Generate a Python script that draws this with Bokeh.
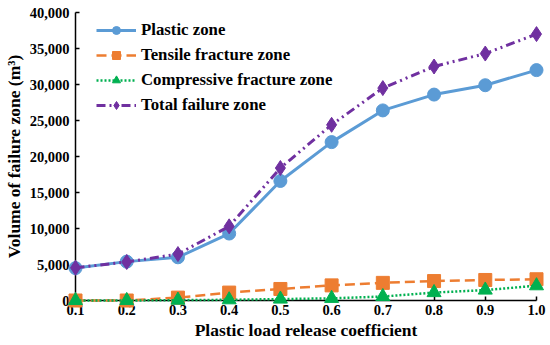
from bokeh.plotting import figure
from bokeh.models import Range1d, Legend, LegendItem, NumeralTickFormatter, FixedTicker
from bokeh.embed import file_html
from bokeh.resources import INLINE

# ---- data ----
coef = [0.1, 0.2, 0.3, 0.4, 0.5, 0.6, 0.7, 0.8, 0.9, 1.0]
plastic = [4500, 5400, 6000, 9300, 16600, 22000, 26400, 28600, 29900, 32000]
tensile = [0, 0, 400, 1100, 1600, 2100, 2450, 2700, 2850, 2950]
compressive = [0, 0, 50, 100, 200, 300, 550, 1100, 1450, 2050]
total = [4550, 5350, 6450, 10300, 18400, 24400, 29500, 32500, 34300, 37000]
y_ticks = [0, 5000, 10000, 15000, 20000, 25000, 30000, 35000, 40000]
series_names = ["Plastic zone", "Tensile fracture zone", "Compressive fracture zone", "Total failure zone"]

FONT = "Liberation Serif"

p = figure(width=550, height=345, output_backend="svg", toolbar_location=None,
           x_range=Range1d(0.1, 1.0), y_range=Range1d(0, 40000),
           min_border_left=74, min_border_right=14, min_border_top=12, min_border_bottom=45)
p.outline_line_color = None
p.grid.visible = False
p.background_fill_color = "white"
p.border_fill_color = "white"

p.xaxis.ticker = FixedTicker(ticks=coef)
p.yaxis.ticker = FixedTicker(ticks=y_ticks)
p.yaxis.formatter = NumeralTickFormatter(format="0,0")
p.xaxis.formatter = NumeralTickFormatter(format="0.0")
p.xaxis.axis_label = "Plastic load release coefficient"
p.yaxis.axis_label = "Volume of failure zone (m³)"
for ax in (p.xaxis, p.yaxis):
    ax.axis_line_color = "black"
    ax.axis_line_width = 1.5
    ax.major_tick_line_color = "black"
    ax.major_tick_line_width = 1.5
    ax.major_tick_in = 4
    ax.major_tick_out = 0
    ax.minor_tick_line_color = None
    ax.major_label_text_font = FONT
    ax.major_label_text_font_style = "bold"
    ax.major_label_text_font_size = "14.5px"
    ax.major_label_text_color = "black"
    ax.axis_label_text_font = FONT
    ax.axis_label_text_font_style = "bold"
    ax.axis_label_text_font_size = "17.5px"
    ax.axis_label_text_color = "black"
p.xaxis.major_label_standoff = 4
p.xaxis.axis_label_standoff = 2
p.yaxis.major_label_standoff = 6
p.yaxis.axis_label_standoff = 3

blue, orange, green, purple = "#5B9BD5", "#ED7D31", "#00B050", "#7030A0"

LV = "overlay"
l1 = p.line(coef, plastic, line_color=blue, line_width=3, level=LV)
m1 = p.scatter(coef, plastic, marker="circle", size=13, fill_color=blue, line_color=blue, level=LV)
l2 = p.line(coef, tensile, line_color=orange, line_width=2.5, line_dash="10 5", level=LV)
m2 = p.scatter(coef, tensile, marker="square", size=13, fill_color=orange, line_color=orange, level=LV)
l3 = p.line(coef, compressive, line_color=green, line_width=2.5, line_dash="2 2", level=LV)
m3 = p.scatter(coef, compressive, marker="triangle", size=14, fill_color=green, line_color=green, level=LV)
l4 = p.line(coef, total, line_color=purple, line_width=3, line_dash="9 4 2 4 2 4", level=LV)
m4 = p.scatter(coef, total, marker="diamond", size=15, fill_color=purple, line_color=purple, level=LV)

legend = Legend(items=[
    LegendItem(label=series_names[0], renderers=[l1, m1]),
    LegendItem(label=series_names[1], renderers=[l2, m2]),
    LegendItem(label=series_names[2], renderers=[l3, m3]),
    LegendItem(label=series_names[3], renderers=[l4, m4]),
], location=(21, 185))
legend.background_fill_alpha = 0
legend.border_line_color = None
legend.label_text_font = FONT
legend.label_text_font_style = "bold"
legend.label_text_font_size = "16.8px"
legend.label_text_color = "black"
legend.glyph_width = 40
legend.glyph_height = 20
legend.label_height = 20
legend.spacing = 5
legend.label_standoff = 5
legend.margin = 0
legend.padding = 0
p.add_layout(legend)

open("out.html", "w").write(file_html(p, INLINE))
